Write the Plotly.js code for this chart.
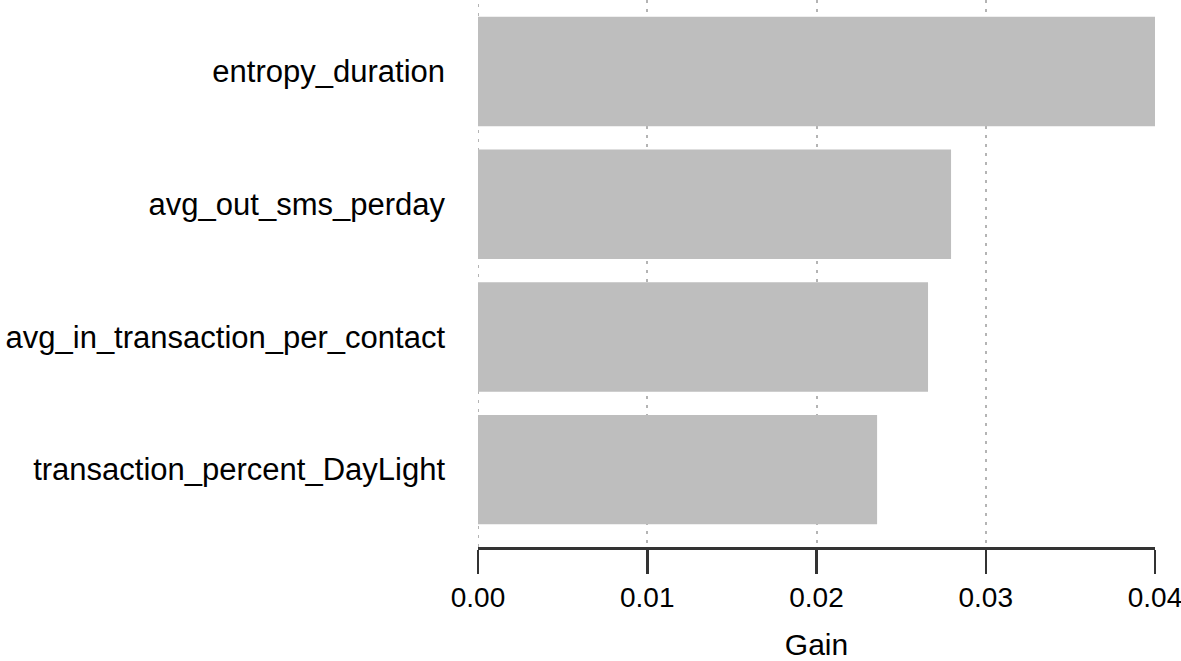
<!DOCTYPE html>
<html>
<head>
<meta charset="utf-8">
<script src="https://cdn.plot.ly/plotly-3.0.1.min.js"></script>
<style>html,body{margin:0;padding:0;background:#fff;}</style>
</head>
<body>
<div id="chart" style="width:1181px;height:661px;"></div>
<script>
const features = ["entropy_duration", "avg_out_sms_perday", "avg_in_transaction_per_contact", "transaction_percent_DayLight"];
const gain = [0.0401, 0.02795, 0.02659, 0.02358];
const xTicks = [0, 0.01, 0.02, 0.03, 0.04];
const xTickLabels = ["0.00", "0.01", "0.02", "0.03", "0.04"];

const trace = {
  type: "bar",
  orientation: "h",
  x: gain,
  y: features,
  marker: {color: "#bebebe", line: {width: 0}},
  hoverinfo: "x+y"
};

const gridStyle = {color: "#b4b4b4", width: 2, dash: "3px,6px"};

const layout = {
  width: 1181,
  height: 661,
  margin: {l: 478, r: 26, t: 0, b: 114},
  paper_bgcolor: "#ffffff",
  plot_bgcolor: "#ffffff",
  showlegend: false,
  bargap: 0.175,
  font: {family: "Liberation Sans, Arial, sans-serif", color: "#000"},
  shapes: [{
    type: "line", layer: "below", xref: "x", yref: "paper",
    x0: xTicks[0], x1: xTicks[0], y0: 0, y1: 1,
    line: gridStyle
  }],
  xaxis: {
    range: [0, 0.04],
    tickvals: xTicks,
    ticktext: xTickLabels,
    ticks: "outside",
    ticklen: 24,
    tickwidth: 2.5,
    tickcolor: "#333333",
    showline: true,
    linecolor: "#333333",
    linewidth: 2.5,
    zeroline: false,
    showgrid: true,
    gridcolor: gridStyle.color,
    gridwidth: gridStyle.width,
    griddash: gridStyle.dash,
    ticklabeloverflow: "allow",
    tickfont: {size: 28, color: "#000"},
    ticklabelstandoff: 0,
    title: {text: "Gain", font: {size: 30, color: "#000"}, standoff: 25}
  },
  yaxis: {
    type: "category",
    categoryorder: "array",
    categoryarray: features,
    range: [3.583, -0.539],
    showgrid: false,
    zeroline: false,
    showline: false,
    ticks: "",
    ticklabelstandoff: 32,
    tickfont: {size: 31, color: "#000"}
  }
};

Plotly.newPlot("chart", [trace], layout, {displayModeBar: false, staticPlot: true});
</script>
</body>
</html>
